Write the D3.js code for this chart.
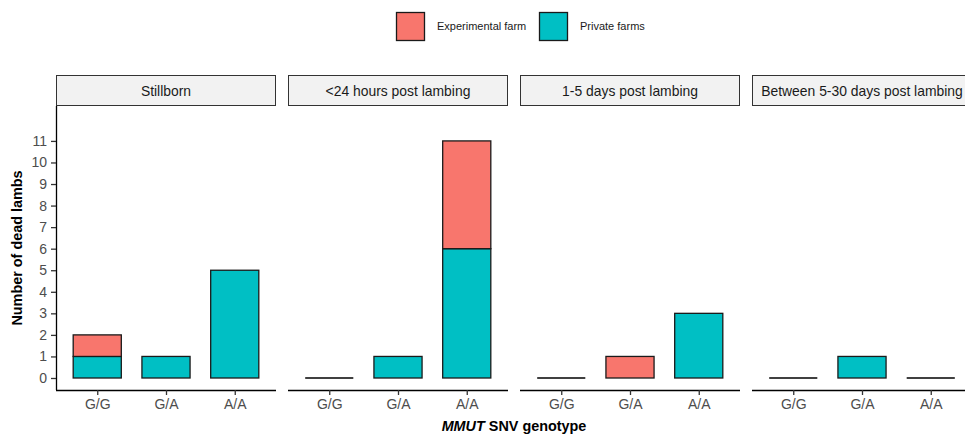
<!DOCTYPE html>
<html><head><meta charset="utf-8">
<script src="https://cdn.jsdelivr.net/npm/d3@7"></script>
<style>body{margin:0;background:#fff}svg{display:block;font-family:"Liberation Sans",Arial,sans-serif}</style>
</head><body><svg id="c" width="965" height="439"></svg>
<script>
const panels = ["Stillborn", "<24 hours post lambing", "1-5 days post lambing", "Between 5-30 days post lambing"];
const genotypes = ["G/G", "G/A", "A/A"];
const seriesNames = ["Private farms", "Experimental farm"];
// values per panel, per genotype
const privateFarms = [[1, 1, 5], [0, 1, 6], [0, 0, 3], [0, 1, 0]];
const experimentalFarm = [[1, 0, 0], [0, 0, 5], [0, 1, 0], [0, 0, 0]];
const yTicks = [0,1,2,3,4,5,6,7,8,9,10,11];
const colors = {"Experimental farm": "#F8766D", "Private farms": "#00BFC4"};

const svg = d3.select("#c");
const panelLeft0 = 56, panelW = 220, gap = 12;
const plotTop = 106, plotBottom = 390;
const y = d3.scaleLinear().domain([-0.557, 12.62]).range([plotBottom, plotTop]);
const FF = "Liberation Sans, Arial, sans-serif";

panels.forEach((p, i) => {
  const x0 = panelLeft0 + i * (panelW + gap);
  const x = d3.scalePoint().domain(genotypes).range([x0 + 0.6 * panelW / 3.2, x0 + 2.6 * panelW / 3.2]);
  const bw = 0.7 * panelW / 3.2;
  const g = svg.append("g");
  // strip
  g.append("rect").attr("x", x0 + 0.5).attr("y", 75.5).attr("width", panelW - 1).attr("height", 30)
    .attr("fill", "#F2F2F2").attr("stroke", "#333").attr("stroke-width", 1);
  g.append("text").attr("x", x0 + panelW / 2).attr("y", 95.5).attr("text-anchor", "middle")
    .attr("font-size", 13.9).attr("fill", "#1a1a1a").text(p);
  // bars
  genotypes.forEach((gt, j) => {
    const pv = privateFarms[i][j], ev = experimentalFarm[i][j];
    const cx = x(gt);
    if (pv + ev === 0) {
      g.append("line").attr("x1", cx - bw / 2).attr("x2", cx + bw / 2).attr("y1", y(0)).attr("y2", y(0))
        .attr("stroke", "#000").attr("stroke-width", 1.5);
      return;
    }
    const stack = [["Private farms", 0, pv], ["Experimental farm", pv, pv + ev]];
    stack.forEach(([name, a, b]) => {
      if (b - a <= 0) return;
      g.append("rect").attr("x", cx - bw / 2).attr("y", y(b)).attr("width", bw).attr("height", y(a) - y(b))
        .attr("fill", colors[name]).attr("stroke", "#1a1a1a").attr("stroke-width", 1.3);
    });
  });
  // x axis
  const xa = g.append("g").attr("transform", `translate(0,${plotBottom})`)
    .call(d3.axisBottom(x).tickSize(5).tickPadding(4).tickSizeOuter(0));
  xa.select(".domain").attr("d", `M${x0},0.5H${x0 + panelW}`).attr("stroke", "#000").attr("stroke-width", 1.3);
  xa.selectAll(".tick line").attr("stroke", "#333").attr("stroke-width", 1.3);
  xa.selectAll(".tick text").attr("font-size", 14).attr("fill", "#4d4d4d").attr("font-family", FF);
  if (i === 0) {
    const ya = g.append("g").attr("transform", `translate(${x0},0)`)
      .call(d3.axisLeft(y).tickValues(yTicks).tickSize(5).tickPadding(4).tickSizeOuter(0));
    ya.select(".domain").attr("d", `M0.5,${plotTop}V${plotBottom}`).attr("stroke", "#000").attr("stroke-width", 1.3);
    ya.selectAll(".tick line").attr("stroke", "#333").attr("stroke-width", 1.3);
    ya.selectAll(".tick text").attr("font-size", 14).attr("fill", "#4d4d4d").attr("font-family", FF);
  }
});

// axis titles
svg.append("text").attr("transform", "translate(22,248) rotate(-90)").attr("text-anchor", "middle")
  .attr("font-size", 14.4).attr("font-weight", "bold").attr("fill", "#000").text("Number of dead lambs");
const xt = svg.append("text").attr("x", 514).attr("y", 431).attr("text-anchor", "middle")
  .attr("font-size", 14.4).attr("font-weight", "bold").attr("fill", "#000");
xt.append("tspan").attr("font-style", "italic").text("MMUT");
xt.append("tspan").text(" SNV genotype");

// legend
const legend = [["Experimental farm", 396, 437], ["Private farms", 539, 580]];
legend.forEach(([name, kx, tx]) => {
  svg.append("rect").attr("x", kx + 0.5).attr("y", 12.5).attr("width", 28).attr("height", 28)
    .attr("fill", colors[name]).attr("stroke", "#1a1a1a").attr("stroke-width", 1.3);
  svg.append("text").attr("x", tx).attr("y", 30).attr("font-size", 11).attr("fill", "#1a1a1a").text(name);
});
</script></body></html>
